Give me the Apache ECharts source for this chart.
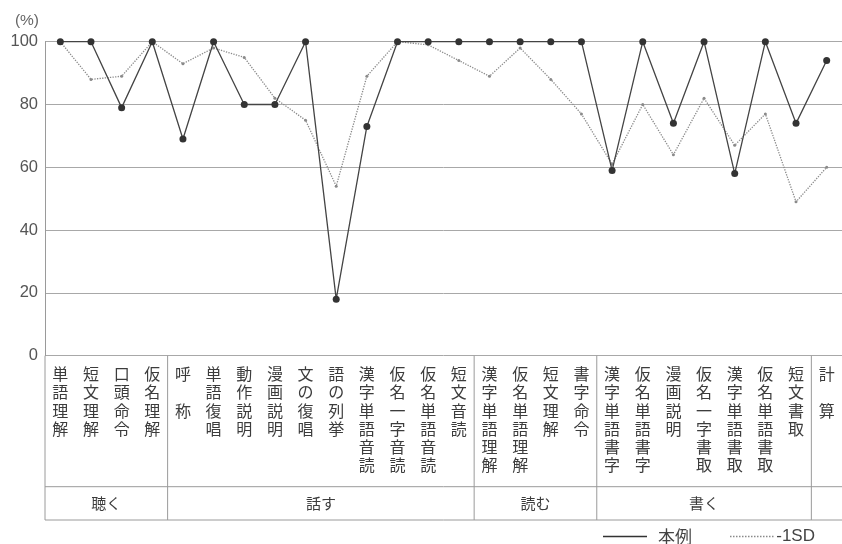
<!DOCTYPE html>
<html><head><meta charset="utf-8">
<script src="https://cdn.jsdelivr.net/npm/echarts@6/dist/echarts.min.js"></script>
<style>html,body{margin:0;padding:0;background:#fff}#c{width:842px;height:544px}</style>
</head><body><div id="c"></div>
<script>
const categories = ['単語理解','短文理解','口頭命令','仮名理解',
  '呼　称','単語復唱','動作説明','漫画説明','文の復唱','語の列挙','漢字単語音読','仮名一字音読','仮名単語音読','短文音読',
  '漢字単語理解','仮名単語理解','短文理解','書字命令',
  '漢字単語書字','仮名単語書字','漫画説明','仮名一字書取','漢字単語書取','仮名単語書取','短文書取',
  '計　算'];
const groups = [
  {name:'聴く', start:0, end:3},
  {name:'話す', start:4, end:13},
  {name:'読む', start:14, end:17},
  {name:'書く', start:18, end:24},
  {name:'', start:25, end:25}
];
const caseValues = [100,100,79,100, 69,100,80,80,100,18,73,100,100,100, 100,100,100,100, 59,100,74,100,58,100,74, 94];
const sdValues   = [100,88,89,100, 93,98,95,82,75,54,89,100,99,94, 89,98,88,77, 61,80,64,82,67,77,49, 60];
const yTicks = [0,20,40,60,80,100];
const seriesNames = ['本例','-1SD'];

const FONT = '"Noto Sans CJK JP", "Noto Sans", sans-serif';
const chart = echarts.init(document.getElementById('c'));
let dots = '';
for (let i = 0; i < 15; i++) { dots += 'M' + (i*3) + ',0h1.5v1.5h-1.5z'; }

const option = {
  animation: false,
  backgroundColor: '#fff',
  grid: {left: 45, right: -3, top: 41.7, bottom: 188.3},
  xAxis: {
    type: 'category', data: categories, boundaryGap: true,
    axisLine: {show: false}, axisTick: {show: false},
    axisLabel: {
      interval: 0, margin: 9, color: '#3c3c3c', fontSize: 16, fontFamily: FONT,
      lineHeight: 18.3, verticalAlign: 'top',
      formatter: v => v.split('').join('\n')
    }
  },
  yAxis: {
    type: 'value', min: yTicks[0], max: yTicks[yTicks.length-1], interval: 20,
    name: '(%)', nameLocation: 'end', nameGap: 13,
    nameTextStyle: {color: '#666', fontSize: 15.5, fontFamily: 'Liberation Sans', align: 'right', padding: [0, 6, 0, 0]},
    axisLine: {show: true, lineStyle: {color: '#9a9a9a', width: 1}},
    axisTick: {show: false},
    axisLabel: {color: '#555', fontSize: 16.5, fontFamily: 'Liberation Sans', margin: 7},
    splitLine: {lineStyle: {color: '#a8a8a8', width: 1}}
  },
  legend: [
    {data: [{name: seriesNames[0], icon: 'path://M0,0h44v1.3h-44z'}], left: 603, top: 528, padding: 0,
     itemWidth: 44, itemHeight: 1.3, itemGap: 0,
     textStyle: {color: '#444', fontSize: 17, lineHeight: 17, fontFamily: FONT, padding: [0,0,0,6]}},
    {data: [{name: seriesNames[1], icon: 'path://' + dots}], left: 730, top: 528, padding: 0,
     itemWidth: 45, itemHeight: 1.5, itemGap: 0,
     textStyle: {color: '#444', fontSize: 17, lineHeight: 17, fontFamily: 'Liberation Sans', padding: [0,0,0,-3]}}
  ],
  series: [
    {name: seriesNames[1], type: 'line', data: sdValues, z: 2,
     symbol: 'circle', symbolSize: 3,
     itemStyle: {color: '#8a8a8a'},
     lineStyle: {color: '#8a8a8a', width: 1.3, type: 'dotted'}},
    {name: seriesNames[0], type: 'line', data: caseValues, z: 3,
     symbol: 'circle', symbolSize: 7,
     itemStyle: {color: '#333'},
     lineStyle: {color: '#444', width: 1.3}}
  ]
};
chart.setOption(option);

function drawTable() {
  const p0 = chart.convertToPixel({yAxisIndex: 0}, 0);
  const cx = i => chart.convertToPixel({xAxisIndex: 0}, i);
  const step = cx(1) - cx(0);
  const leftX = cx(0) - step/2;
  const rightX = 842;
  const midY = 486.7, botY = 520;
  const lineStyle = {stroke: '#9a9a9a', lineWidth: 1};
  const els = [];
  els.push({type: 'line', shape: {x1: leftX, y1: p0, x2: leftX, y2: botY}, style: lineStyle, silent: true});
  els.push({type: 'line', shape: {x1: leftX, y1: midY, x2: rightX, y2: midY}, style: lineStyle, silent: true});
  els.push({type: 'line', shape: {x1: leftX, y1: botY, x2: rightX, y2: botY}, style: lineStyle, silent: true});
  groups.forEach((g, gi) => {
    const x0 = cx(g.start) - step/2;
    const x1 = Math.min(cx(g.end) + step/2, rightX);
    if (gi > 0) {
      els.push({type: 'line', shape: {x1: x0, y1: p0, x2: x0, y2: botY}, style: lineStyle, silent: true});
    }
    if (g.name) {
      els.push({type: 'text', x: (x0 + x1)/2, y: (midY + botY)/2,
        style: {text: g.name, fill: '#3c3c3c', fontSize: 15, fontFamily: FONT, align: 'center', verticalAlign: 'middle'}, silent: true});
    }
  });
  chart.setOption({graphic: {elements: els}});
}
drawTable();
</script></body></html>
